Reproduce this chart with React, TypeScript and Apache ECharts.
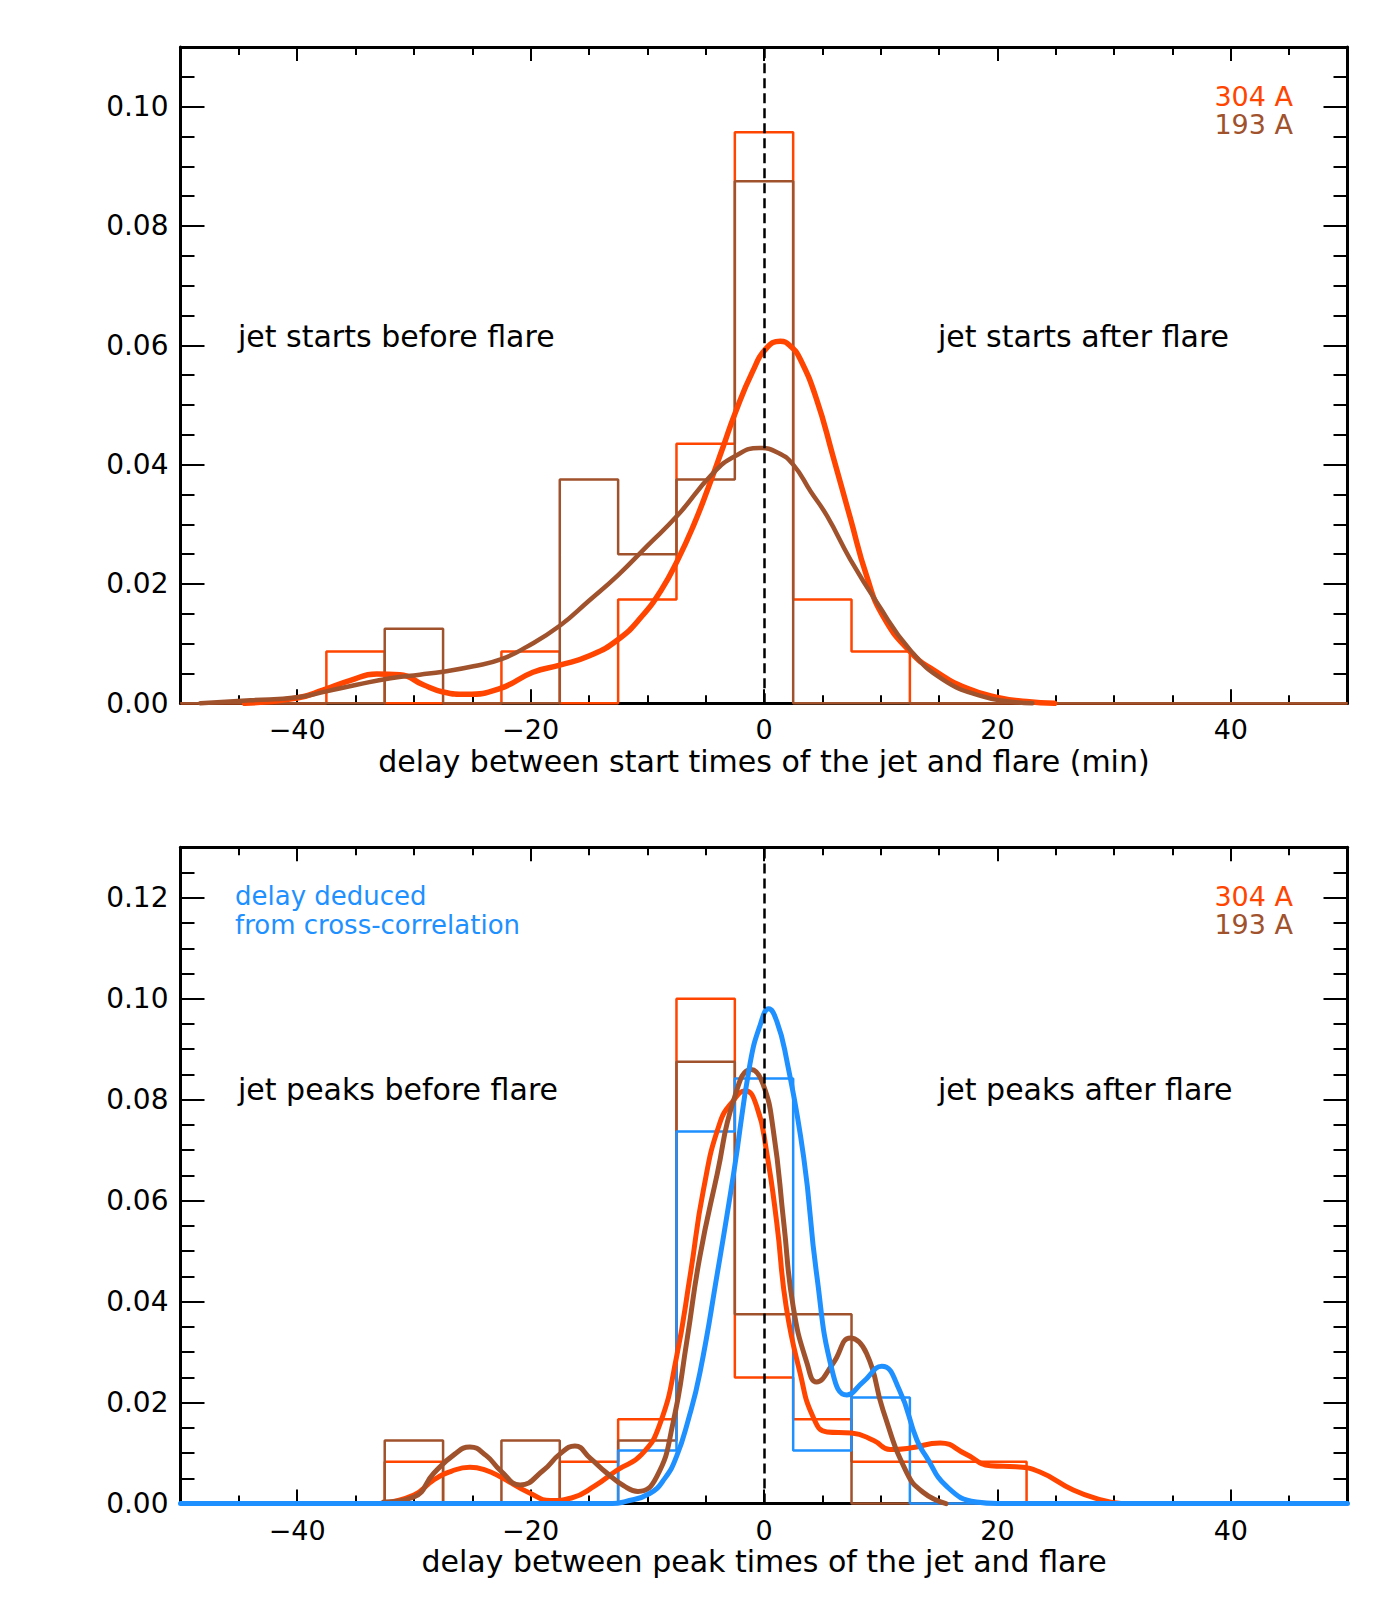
import React, { useEffect, useRef } from "react";
import * as echarts from "echarts";

// ---------- data ----------
const X_MIN = -50;
const X_MAX = 50;
const binCenters = [-35, -30, -25, -20, -15, -10, -5, 0, 5, 10, 15, 20];
const binWidth = 5;

// top panel: delay between start times (normalised histograms)
const startHist304 = [0.0087, 0, 0, 0.0087, 0, 0.0174, 0.0435, 0.0957, 0.0174, 0.0087, 0, 0];
const startHist193 = [0, 0.0125, 0, 0, 0.0375, 0.025, 0.0375, 0.0875, 0, 0, 0, 0];

// bottom panel: delay between peak times
const peakHist304 = [0, 0.0083, 0, 0, 0.0083, 0.0167, 0.1, 0.025, 0.0167, 0.0083, 0.0083, 0.0083];
const peakHist193 = [0, 0.0125, 0, 0.0125, 0, 0.0125, 0.0875, 0.0375, 0.0375, 0, 0, 0];
const peakHistXcorr = [0, 0, 0, 0, 0, 0.0105, 0.0737, 0.0842, 0.0105, 0.021, 0, 0];

// smoothed density curves
const startCurve304 = [
  [-44.5, 0], [-40, 0.0009], [-37.8, 0.0022], [-35.5, 0.0038], [-33.2, 0.0049], [-31.2, 0.0048],
  [-29.2, 0.0031], [-27.5, 0.0019], [-25.5, 0.0015], [-22.6, 0.0025], [-19.8, 0.0052], [-17.5, 0.0064],
  [-14.9, 0.008], [-12.5, 0.0107], [-10.5, 0.0145], [-8.8, 0.019], [-7.4, 0.024],
  [-6, 0.03], [-4.8, 0.036], [-3.5, 0.043], [-2.5, 0.0485], [-1, 0.0555], [0.2, 0.0595], [1.4, 0.0607],
  [2.3, 0.0598], [3.1, 0.0577], [4.5, 0.051], [5.9, 0.0415], [7.4, 0.031], [8.8, 0.0213], [10.2, 0.0146],
  [12.5, 0.0087], [14.5, 0.0056], [17.4, 0.0025], [20.2, 0.0009], [22.5, 0.0003], [24.9, 0],
];
const startCurve193 = [
  [-48.3, 0], [-44, 0.0005], [-40, 0.001], [-37.5, 0.002], [-34.9, 0.0031], [-32, 0.0042], [-29.5, 0.0048],
  [-27.5, 0.0053], [-24.9, 0.0062], [-22.5, 0.0074], [-20.3, 0.0095], [-17.5, 0.013], [-15, 0.0172],
  [-12.5, 0.0215], [-10, 0.0264], [-7.4, 0.0315], [-4.4, 0.0385], [-2.5, 0.0414],
  [-0.4, 0.0428], [1.2, 0.042], [2.5, 0.04], [4, 0.0355], [5.4, 0.0314], [7.4, 0.0241], [9.7, 0.0168],
  [12.5, 0.009], [15.4, 0.0039], [18.8, 0.0011], [21, 0.0003], [23, 0],
];
const peakCurve304 = [
  [-32.9, 0], [-30, 0.0017], [-28.3, 0.0047], [-26.8, 0.0064], [-25.2, 0.0072], [-23.8, 0.0066],
  [-22.6, 0.0053], [-20, 0.002], [-18.3, 0.0006], [-16.5, 0.0011], [-14.5, 0.0035],
  [-12.6, 0.0066], [-10.5, 0.0097], [-8.9, 0.0159], [-7.5, 0.029], [-6.3, 0.0456], [-5.2, 0.062],
  [-3.8, 0.0753], [-2.6, 0.0799], [-1.6, 0.0818], [-0.6, 0.0785], [0.2, 0.07], [1.1, 0.0555], [1.9, 0.039],
  [3.1, 0.0258], [4.2, 0.0172], [5.4, 0.0142], [7.5, 0.014], [9.4, 0.0125], [10.8, 0.0107], [12.5, 0.011],
  [15.1, 0.012], [17.3, 0.0098], [19.4, 0.0075], [21.6, 0.0073], [23.6, 0.0063], [26.5, 0.0027],
  [28.8, 0.0008], [30.6, 0],
];
const peakCurve193 = [
  [-32.6, 0.0003], [-30, 0.0013], [-28.3, 0.006], [-26.5, 0.0098], [-25.2, 0.0112], [-23.8, 0.0095],
  [-22.6, 0.0066], [-20.9, 0.0037], [-18.9, 0.0066], [-17.5, 0.0098], [-16.2, 0.0114], [-14.9, 0.009],
  [-13.5, 0.0061], [-12, 0.0035], [-10.8, 0.0024], [-9.2, 0.0053], [-7.8, 0.0159], [-6.6, 0.0324],
  [-5.5, 0.0489], [-4, 0.0654], [-2.6, 0.0799], [-1.1, 0.086], [-0.1, 0.0832], [0.8, 0.0739], [1.7, 0.0555],
  [2.5, 0.039], [3.7, 0.0277], [4.5, 0.0241], [5.9, 0.0277], [7.4, 0.0328], [8.8, 0.0297],
  [10.2, 0.0185], [12.2, 0.0063], [13.6, 0.0023], [15.6, 0],
];
const peakCurveXcorr = [
  [-50, 0], [-13, 0], [-11.9, 0.0004], [-9.8, 0.002], [-8.5, 0.005], [-7.5, 0.0093], [-6.5, 0.0165],
  [-5.5, 0.0258], [-4, 0.0456], [-2.6, 0.0654], [-1.2, 0.0871], [-0.3, 0.095], [0.4, 0.098], [1.1, 0.0955],
  [1.9, 0.0884], [3.4, 0.0686], [4.5, 0.0456], [5.9, 0.0258], [7.1, 0.0215], [8.5, 0.0241], [10.1, 0.0272],
  [11.6, 0.0225], [13.1, 0.0126], [13.9, 0.0093], [15.7, 0.0033], [18.2, 0.0003], [20, 0], [50, 0],
];

const xTicks = [-40, -20, 0, 20, 40];
const yTicksStart = [0, 0.02, 0.04, 0.06, 0.08, 0.1];
const yTicksPeak = [0, 0.02, 0.04, 0.06, 0.08, 0.1, 0.12];
const Y_MAX_START = 0.11;
const Y_MAX_PEAK = 0.13;

// ---------- styles ----------
const C304 = "#FF4500";
const C193 = "#A0522D";
const CX = "#1E90FF";
const FONT = '"DejaVu Sans", sans-serif';

const GRID_LEFT = 180.5;
const GRID_RIGHT = 52.5;
const GRID_H = 656.3;
const GRID_TOP = [47, 847.3];

function stepData(vals: number[]) {
  const pts: number[][] = [[X_MIN, 0]];
  vals.forEach((v, i) => pts.push([binCenters[i] - binWidth / 2, v]));
  pts.push([binCenters[binCenters.length - 1] + binWidth / 2, 0]);
  pts.push([X_MAX, 0]);
  return pts;
}

const tickStyle = { color: "#000", width: 2 };
const lineStyle = { color: "#000", width: 3 };

function xAxes(gridIndex: number) {
  const base: any = {
    gridIndex,
    type: "value",
    min: X_MIN,
    max: X_MAX,
    interval: 5,
    splitLine: { show: false },
    axisLabel: { show: false },
    axisLine: { show: false, onZero: false },
    axisTick: { show: false },
  };
  const major = { show: true, inside: true, length: 14, customValues: xTicks, lineStyle: tickStyle };
  const minor = { show: true, inside: true, length: 8, lineStyle: tickStyle };
  return [
    {
      ...base,
      position: "bottom",
      axisLine: { show: true, onZero: false, lineStyle },
      axisTick: major,
      axisLabel: {
        show: true,
        customValues: xTicks,
        margin: 13,
        color: "#000",
        fontSize: 27,
        lineHeight: 27,
        fontFamily: FONT,
        formatter: (v: number) => (v < 0 ? "\u2212" + Math.abs(v) : String(v)),
      },
    },
    { ...base, position: "bottom", axisTick: minor },
    { ...base, position: "top", axisLine: { show: true, onZero: false, lineStyle }, axisTick: major },
    { ...base, position: "top", axisTick: minor },
  ];
}

function yAxes(gridIndex: number, max: number, ticks: number[]) {
  const base: any = {
    gridIndex,
    type: "value",
    min: 0,
    max,
    interval: 0.005,
    splitLine: { show: false },
    axisLabel: { show: false },
    axisLine: { show: false, onZero: false },
    axisTick: { show: false },
  };
  const major = { show: true, inside: true, length: 24, customValues: ticks, lineStyle: tickStyle };
  const minor = { show: true, inside: true, length: 14, lineStyle: tickStyle };
  return [
    {
      ...base,
      position: "left",
      axisLine: { show: true, onZero: false, lineStyle },
      axisTick: major,
      axisLabel: {
        show: true,
        customValues: ticks,
        margin: 12,
        color: "#000",
        fontSize: 28,
        fontFamily: FONT,
        formatter: (v: number) => v.toFixed(2),
      },
    },
    { ...base, position: "left", axisTick: minor },
    { ...base, position: "right", axisLine: { show: true, onZero: false, lineStyle }, axisTick: major },
    { ...base, position: "right", axisTick: minor },
  ];
}

function histSeries(name: string, vals: number[], color: string, axis: number) {
  return {
    name,
    type: "line",
    step: "end",
    xAxisIndex: axis,
    yAxisIndex: axis,
    data: stepData(vals),
    showSymbol: false,
    symbol: "none",
    clip: false,
    lineStyle: { color, width: 2.5 },
    z: 2,
  };
}

function curveSeries(name: string, data: number[][], color: string, width: number, axis: number) {
  return {
    name,
    type: "line",
    xAxisIndex: axis,
    yAxisIndex: axis,
    data,
    showSymbol: false,
    symbol: "none",
    smooth: 0.5,
    clip: false,
    lineStyle: { color, width, cap: "round", join: "round" },
    z: 3,
  };
}

function zeroLine(axis: number) {
  return {
    type: "line",
    xAxisIndex: axis,
    yAxisIndex: axis,
    data: [],
    z: 5,
    markLine: {
      silent: true,
      symbol: "none",
      label: { show: false },
      lineStyle: { type: [10, 5], color: "#000", width: 2.5 },
      data: [{ xAxis: 0 }],
    },
  };
}

function txt(text: string, x: number, baseline: number, color: string, align: string, size = 30) {
  return {
    type: "text",
    x,
    y: baseline - 0.346 * size,
    z: 20,
    style: { text, fill: color, font: `${size}px ${FONT}`, align, verticalAlign: "middle", lineHeight: size },
  };
}

export default function App() {
  const ref = useRef<HTMLDivElement>(null);

  useEffect(() => {
    document.body.style.margin = "0";
    if (!ref.current) return;
    const chart = echarts.init(ref.current, undefined, { renderer: "svg" });
    const off = GRID_TOP[1] - GRID_TOP[0];
    const option: any = {
      animation: false,
      backgroundColor: "#fff",
      grid: GRID_TOP.map((top) => ({
        left: GRID_LEFT,
        right: GRID_RIGHT,
        top,
        height: GRID_H,
        containLabel: false,
        outerBoundsMode: "none",
      })),
      xAxis: [...xAxes(0), ...xAxes(1)],
      yAxis: [...yAxes(0, Y_MAX_START, yTicksStart), ...yAxes(1, Y_MAX_PEAK, yTicksPeak)],
      series: [
        histSeries("304 A start", startHist304, C304, 0),
        histSeries("193 A start", startHist193, C193, 0),
        curveSeries("304 A start density", startCurve304, C304, 5.5, 0),
        curveSeries("193 A start density", startCurve193, C193, 4.5, 0),
        zeroLine(0),
        histSeries("304 A peak", peakHist304, C304, 4),
        histSeries("193 A peak", peakHist193, C193, 4),
        histSeries("cross-correlation peak", peakHistXcorr, CX, 4),
        curveSeries("304 A peak density", peakCurve304, C304, 5, 4),
        curveSeries("193 A peak density", peakCurve193, C193, 5, 4),
        curveSeries("cross-correlation density", peakCurveXcorr, CX, 5, 4),
        zeroLine(4),
      ],
      graphic: [
        txt("304 A", 1293, 105.7, C304, "right", 27),
        txt("193 A", 1293, 134, C193, "right", 27),
        txt("jet starts before flare", 238, 346.7, "#000", "left"),
        txt("jet starts after flare", 938, 346.7, "#000", "left"),
        txt("delay between start times of the jet and flare (min)", 764, 772, "#000", "center"),
        txt("304 A", 1293, 105.7 + off, C304, "right", 27),
        txt("193 A", 1293, 134 + off, C193, "right", 27),
        txt("delay deduced", 235, 905, CX, "left", 26),
        txt("from cross-correlation", 235, 934, CX, "left", 26),
        txt("jet peaks before flare", 238, 1099.6, "#000", "left"),
        txt("jet peaks after flare", 938, 1099.6, "#000", "left"),
        txt("delay between peak times of the jet and flare", 764, 772 + off, "#000", "center"),
      ],
    };
    chart.setOption(option);
    return () => chart.dispose();
  }, []);

  return <div ref={ref} style={{ width: 1400, height: 1600 }} />;
}
